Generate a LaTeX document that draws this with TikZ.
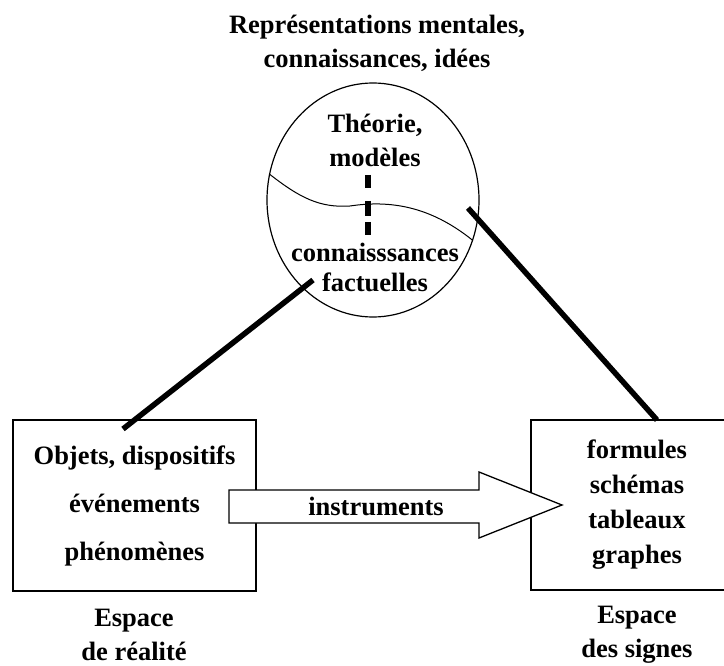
\documentclass[tikz,border=0pt]{standalone}
\usepackage{fontspec}
\setmainfont{Liberation Serif}
\usetikzlibrary{shapes,shapes.geometric,calc}

\begin{document}
\begin{tikzpicture}
        [x=1pt,y=-1pt,
        every node/.style={inner sep=0pt,outer sep=0pt,align=center,
          font=\fontsize{26.5}{34}\selectfont\bfseries},
        boite/.style={draw,line width=1.3pt,minimum width=243pt,minimum height=171pt},
        bulle/.style={ellipse,draw,line width=1.2pt,minimum width=212pt,minimum height=234pt},
        lien/.style={-,line width=5.5pt},
        fleche/.style={draw,line width=1.3pt,fill=white,line join=miter}]
        \clip (0,0) rectangle (724,666);
        \node (titre) at (377,43) {Représentations mentales,\\connaissances, idées};
        %%
        \node[bulle] (idees) at (373,200) {};
        \node (theorie) at (375,140) {Théorie,\\modèles};
        \node (faits) at (375,267) {connaisssances\\[-4pt]factuelles};
        \draw[line width=1pt] (idees.166) .. controls (300,198) and (320,208) .. (350,206)
          .. controls (390,200) and (430,206) .. (idees.-22);
        \coordinate (d1) at (368,175);
        \coordinate (d2) at (368,235);
        \draw[lien,dash pattern=on 13pt off 13pt on 15pt off 6pt] (d1) -- (d2);
        %%
        \node[boite] (reel) at (134.5,505.5)
          {Objets, dispositifs\\[14pt]événements\\[14pt]phénomènes};
        \node[boite,minimum width=212pt,minimum height=170pt] (signes) at (637,505)
          {formules\\[1pt]schémas\\[1pt]tableaux\\[1pt]graphes};
        \node (reelt) at (134,635) {Espace\\de réalité};
        \node (signest) at (637,635) {Espace\\des signes};
        %%
        \draw[fleche] (229,490) -- (479,490) -- (479,472) -- (562,505)
          -- (479,538) -- (479,523) -- (229,523) -- cycle;
        \node (instr) at (376,506) {instruments};
        %%
        \coordinate (a1) at (313,280);
        \coordinate (a2) at (123,429);
        \coordinate (b1) at (468,208);
        \coordinate (b2) at (657,420);
        \path
        \foreach \startNode/\endNode in {a1/a2,b1/b2}
        {
          (\startNode) edge[lien] (\endNode)
        };
\end{tikzpicture}
\end{document}
